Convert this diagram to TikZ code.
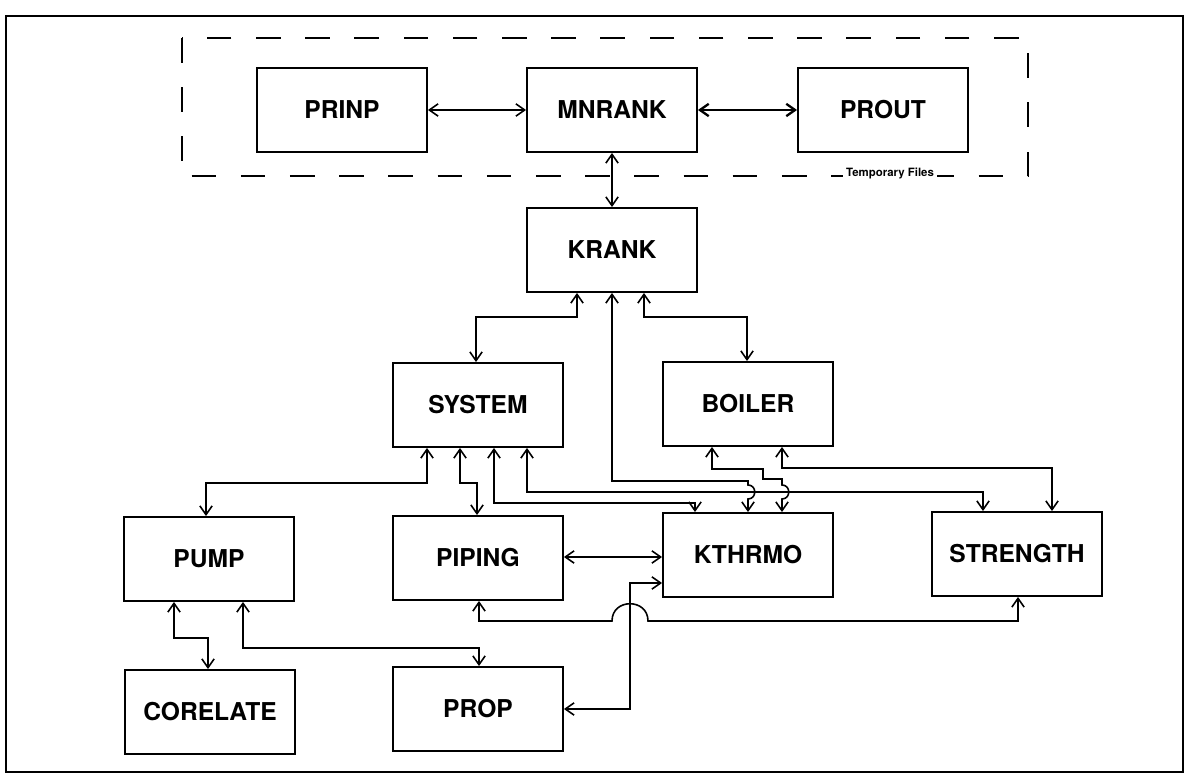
\documentclass[tikz,border=0pt]{standalone}
\usepackage{fontspec}
\setmainfont{TeX Gyre Heros}
\usepackage{tikz}
\usetikzlibrary{arrows.meta}

\begin{document}
\begin{tikzpicture}[x=0.02cm,y=-0.02cm,
    >={Straight Barb[length=5pt,width=7pt]},
    modbox/.style={draw,line width=1.1pt,minimum width=3.4cm,minimum height=1.68cm,
                   font=\bfseries\fontsize{14}{16}\selectfont},
    link/.style={<->,line width=0.9pt}]
  \useasboundingbox (0,0) rectangle (1184,776);
  % outer frame
  \draw[line width=1.6pt] (6,16) rectangle (1183,772);
  % temporary files group
  \draw[line width=1.3pt,dash pattern=on 14pt off 14pt] (182,38) rectangle (1028,176);
  \node[fill=white,inner sep=1.5pt,anchor=base,font=\bfseries\fontsize{6.5}{7}\selectfont]
    (tmp) at (890,177) {Temporary Files};
  % modules
  \node[modbox] (prinp)    at (342,110) {PRINP};
  \node[modbox] (mnrank)   at (612,110) {MNRANK};
  \node[modbox] (prout)    at (883,110) {PROUT};
  \node[modbox] (krank)    at (612,250) {KRANK};
  \node[modbox] (system)   at (478,405) {SYSTEM};
  \node[modbox] (boiler)   at (748,404) {BOILER};
  \node[modbox] (pump)     at (209,559) {PUMP};
  \node[modbox] (piping)   at (478,558) {PIPING};
  \node[modbox] (kthrmo)   at (748,555) {KTHRMO};
  \node[modbox] (strength) at (1017,554) {STRENGTH};
  \node[modbox] (corelate) at (210,712) {CORELATE};
  \node[modbox] (prop)     at (478,709) {PROP};
  % top row
  \draw[link] (prinp) -- (mnrank);
  \draw[link,line width=1.3pt] (mnrank) -- (prout);
  \draw[link] (mnrank) -- (krank);
  % from KRANK
  \draw[link] (krank.south -| 577,0) |- (476,317) -- (system.north -| 476,0);
  \draw[link] (krank.south -| 644,0) |- (747,317) -- (boiler.north -| 747,0);
  \draw[link] (krank.south -| 612,0) |- (748,481) -- (748,485)
    .. controls (757,485) and (757,499) .. (748,499) -- (kthrmo.north -| 748,0);
  % from BOILER
  \draw[link] (boiler.south -| 712,0) |- (763,469) |- (782,479) -- (782,485)
    .. controls (791,485) and (791,499) .. (782,499) -- (kthrmo.north -| 782,0);
  \draw[link] (boiler.south -| 782,0) |- (1052,468) -- (strength.north -| 1052,0);
  % from SYSTEM
  \draw[link] (system.south -| 427,0) |- (206,483) -- (pump.north -| 206,0);
  \draw[link] (system.south -| 460,0) |- (477,483) -- (piping.north -| 477,0);
  \draw[link] (system.south -| 494,0) |- (695,503) -- (kthrmo.north -| 695,0);
  \draw[link] (system.south -| 527,0) |- (983,492) -- (strength.north -| 983,0);
  % lower part
  \draw[link] (piping.east |- 0,557) -- (kthrmo.west |- 0,557);
  \draw[link] (prop.east) -| (630,583) -- (kthrmo.west |- 0,583);
  \draw[link] (piping.south -| 479,0) |- (612,621)
    .. controls (612,598) and (648,598) .. (648,621) -| (strength.south -| 1018,0);
  \draw[link] (pump.south -| 174,0) |- (208,638) -- (corelate.north -| 208,0);
  \draw[link] (pump.south -| 243,0) |- (479,648) -- (prop.north -| 479,0);
\end{tikzpicture}
\end{document}
